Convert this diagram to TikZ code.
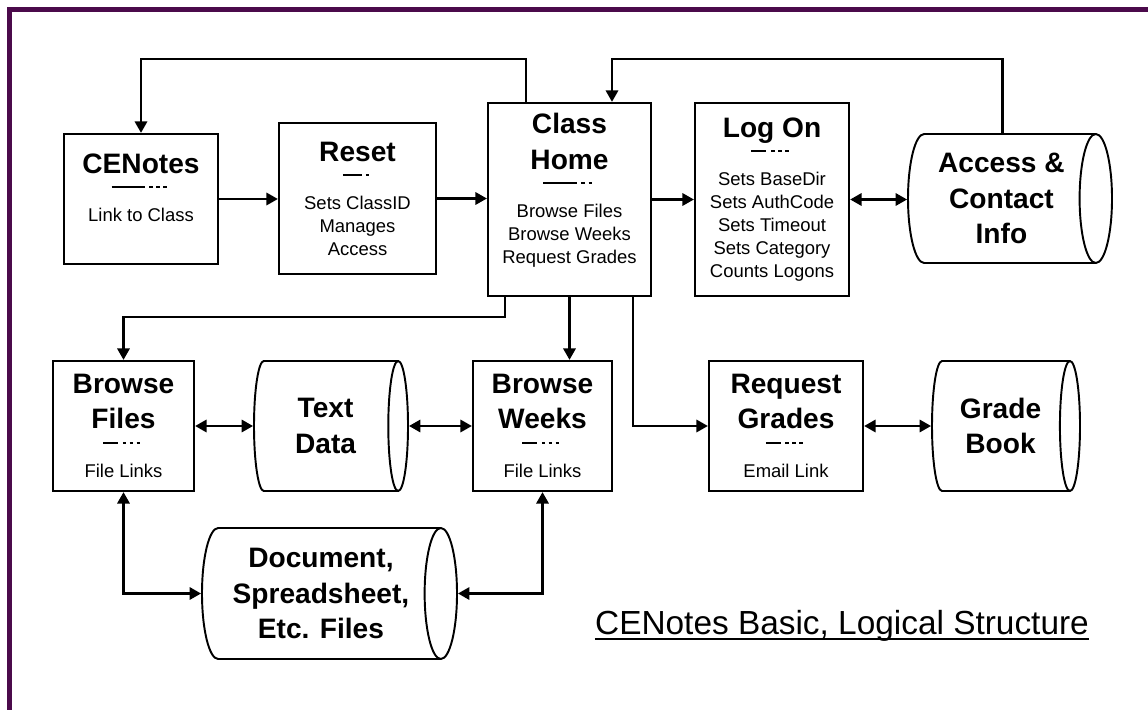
\documentclass[tikz,border=0pt]{standalone}
\usepackage{fontspec}
\setmainfont{Liberation Sans}
\usetikzlibrary{arrows.meta,shapes.geometric}
\def\px{0.2mm}
\definecolor{framepurple}{RGB}{75,10,75}
\newcommand{\ttl}{\fontsize{16}{19}\selectfont\bfseries}
\newcommand{\sml}{\fontsize{10.5}{13}\selectfont\lineskiplimit=-20pt}
\newcommand{\sepbar}[2]{\rule[3.2pt]{#1}{1.1pt}\hspace{2pt}\hbox to #2{\xleaders\hbox{\rule[3.2pt]{2pt}{1.1pt}\hspace{1.4pt}}\hfill}}
\tikzset{
  proc/.style={draw, line width=1.3pt, rectangle, inner sep=0pt, align=center, font=\sml},
  drum/.style={draw, line width=1.1pt, cylinder, aspect=0.36, inner sep=0pt, align=center, font=\ttl, anchor=shape center},
  flow/.style={line width=1.3pt, -{Triangle[length=6.5pt,width=7pt]}},
  biflow/.style={line width=1.3pt, {Triangle[length=6.5pt,width=7pt]}-{Triangle[length=6.5pt,width=7pt]}},
}
\begin{document}
\begin{tikzpicture}[x=\px, y=-\px]
	\useasboundingbox (0,0) rectangle (1148,710);
	\draw[framepurple, line width=1mm] (9.5,712) -- (9.5,9.5) -- (1150,9.5);
	%
	\coordinate (railtop) at (0,59);
	\coordinate (railmid) at (0,317);
	%
	\node[proc, minimum width=154*\px, minimum height=130*\px] (cenotes) at (141,199)
		{\ttl CENotes\\[-1.5pt]\sepbar{19pt}{12.5pt}\\[3pt]Link to Class\\\mbox{}};
	\node[proc, minimum width=157*\px, minimum height=151*\px] (reset) at (357.5,198.5)
		{\ttl Reset\\[-1.5pt]\sepbar{11pt}{3.6pt}\\[3pt]Sets ClassID\\Manages\\Access};
	\node[proc, minimum width=163*\px, minimum height=193*\px] (classhome) at (569.5,199.5)
		{\ttl Class\\[7.5pt]\ttl Home\\[-1.5pt]\sepbar{19pt}{9pt}\\[3pt]Browse Files\\Browse Weeks\\Request Grades\\\mbox{}};
	\node[proc, minimum width=154*\px, minimum height=193*\px] (logon) at (772,199.5)
		{\ttl Log On\\[-1.5pt]\sepbar{8.5pt}{13pt}\\[3pt]Sets BaseDir\\Sets AuthCode\\Sets Timeout\\Sets Category\\Counts Logons};
	\node[drum, minimum width=129*\px, minimum height=204*\px] (access) at (1010,198.5)
		{Access \&\\[1pt]Contact\\[1pt]Info};
	%
	\node[proc, minimum width=141*\px, minimum height=130*\px] (browsefiles) at (123.5,426)
		{\ttl Browse\\[7pt]\ttl Files\\[-1.5pt]\sepbar{8.5pt}{12.5pt}\\[3pt]File Links};
	\node[drum, minimum width=130*\px, minimum height=154*\px] (textdata) at (331,426)
		{Text\\[1pt]Data};
	\node[proc, minimum width=139*\px, minimum height=130*\px] (browseweeks) at (542.5,426)
		{\ttl Browse\\[7pt]\ttl Weeks\\[-1.5pt]\sepbar{8.5pt}{12.5pt}\\[3pt]File Links};
	\node[proc, minimum width=154*\px, minimum height=130*\px] (reqgrades) at (786,426)
		{\ttl Request\\[7pt]\ttl Grades\\[-1.5pt]\sepbar{8.5pt}{12.5pt}\\[3pt]Email Link};
	\node[drum, minimum width=130*\px, minimum height=148*\px] (gradebook) at (1006,426)
		{Grade\\[1pt]Book};
	\node[drum, minimum width=131*\px, minimum height=255*\px] (docfiles) at (329.5,593.5)
		{Document,\\[1pt]Spreadsheet,\\[1pt]Etc. Files};
	%
	\node[anchor=base, inner sep=0pt, font=\fontsize{19}{23}\selectfont] (caption) at (842,634)
		{CENotes Basic, Logical Structure};
	\draw[line width=1.1pt] ([yshift=-1mm]caption.base west) -- ([yshift=-1mm]caption.base east);
	%
	% connectors
	\foreach \a/\b in {cenotes/reset,reset/classhome,classhome/logon}
		\draw[flow] (\a.east) -- (\a.east -| \b.west);
	\foreach \a/\b in {logon/access,browsefiles/textdata,textdata/browseweeks,reqgrades/gradebook}
		\draw[biflow] (\a.east) -- (\a.east -| \b.west);
	\draw[flow] ([xshift=-43.5*\px]classhome.north) |- (cenotes.north |- railtop) -- (cenotes.north);
	\draw[flow] ([xshift=1*\px]access.north) |- ([xshift=42.5*\px]classhome.north |- railtop) -- ([xshift=42.5*\px]classhome.north);
	\draw[flow] ([xshift=-64.5*\px]classhome.south) |- (browsefiles.north |- railmid) -- (browsefiles.north);
	\draw[flow] (classhome.south) -- (classhome.south |- browseweeks.north);
	\draw[flow] ([xshift=63.5*\px]classhome.south) |- (reqgrades.west);
	\draw[biflow] (browsefiles.south) |- (docfiles.west);
	\draw[biflow] (browseweeks.south) |- (docfiles.east);
\end{tikzpicture}
\end{document}
